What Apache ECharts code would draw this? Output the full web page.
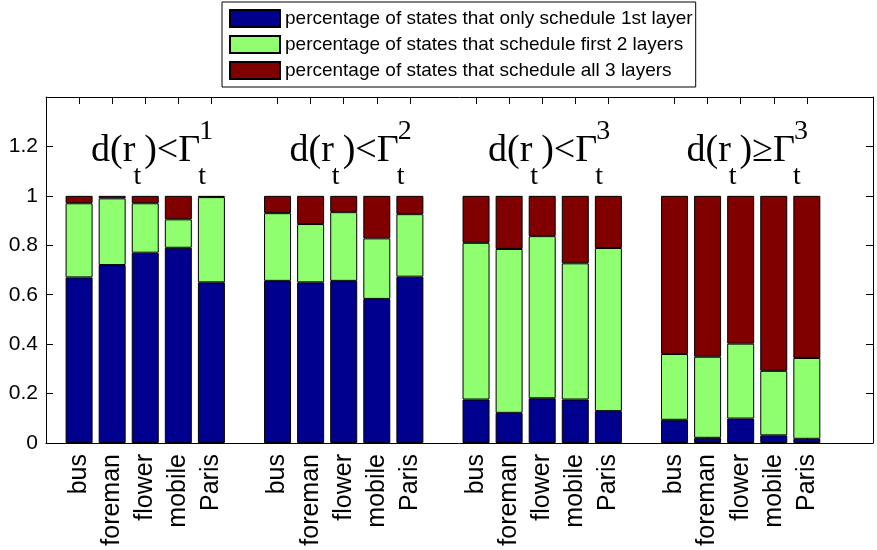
<!DOCTYPE html>
<html><head><meta charset="utf-8">
<script src="https://cdn.jsdelivr.net/npm/echarts@6/dist/echarts.min.js"></script>
<style>html,body{margin:0;padding:0;background:#fff}#c{width:877px;height:550px}</style>
</head><body><div id="c"></div>
<script>
const videos = ['bus', 'foreman', 'flower', 'mobile', 'Paris'];
const legendNames = [
  'percentage of states that only schedule 1st layer',
  'percentage of states that schedule first 2 layers',
  'percentage of states that schedule all 3 layers'
];
// 4 groups x 5 videos
const onlyFirst = [0.67, 0.72, 0.77, 0.79, 0.65,
                   0.656, 0.65, 0.656, 0.583, 0.673,
                   0.176, 0.122, 0.181, 0.176, 0.129,
                   0.094, 0.021, 0.099, 0.031, 0.017];
const firstTwo  = [0.30, 0.27, 0.20, 0.115, 0.345,
                   0.274, 0.236, 0.278, 0.245, 0.253,
                   0.634, 0.663, 0.656, 0.551, 0.66,
                   0.266, 0.328, 0.303, 0.261, 0.327];
const allThree  = [0.03, 0.01, 0.03, 0.095, 0.005,
                   0.07, 0.114, 0.066, 0.172, 0.074,
                   0.19, 0.215, 0.163, 0.273, 0.211,
                   0.64, 0.651, 0.598, 0.708, 0.656];
const relations = ['<', '<', '<', '\u2265'];
const levels = ['1', '2', '3', '3'];
const yTickLabels = ['0', '0.2', '0.4', '0.6', '0.8', '1', '1.2'];

const colors = ['#00008f', '#8fff70', '#800000'];
const slots = [], d1 = [], d2 = [], d3 = [], groupStart = [];
for (let g = 0; g < 4; g++) {
  slots.push(''); d1.push(null); d2.push(null); d3.push(null);
  groupStart.push(slots.length);
  for (let v = 0; v < videos.length; v++) {
    slots.push(videos[v]);
    d1.push(onlyFirst[g * 5 + v]);
    d2.push(firstTwo[g * 5 + v]);
    d3.push(allThree[g * 5 + v]);
  }
}
slots.push(''); d1.push(null); d2.push(null); d3.push(null);
slots.push(''); d1.push(null); d2.push(null); d3.push(null);

const sans = '"Liberation Sans", Arial, sans-serif';
const serif = '"Liberation Serif", "Times New Roman", serif';
const black = '#000';
const tickShow = (i, v) => v !== '';

const chart = echarts.init(document.getElementById('c'), null, {renderer: 'canvas'});
function xAx(pos, showLabel) {
  return {
    type: 'category', data: slots, boundaryGap: false, position: pos,
    axisLine: {show: true, onZero: false, lineStyle: {color: black, width: 1}},
    axisTick: {show: true, inside: true, length: 7, interval: tickShow, lineStyle: {color: black}},
    axisLabel: {show: showLabel, rotate: 90, margin: 11, interval: 0, fontSize: 25, color: black, fontFamily: sans},
    splitLine: {show: false}
  };
}
function yAx(pos, showLabel) {
  return {
    type: 'value', min: 0, max: 1.4, interval: 0.2, position: pos,
    axisLine: {show: true, lineStyle: {color: black, width: 1}},
    axisTick: {show: true, inside: true, length: 7, lineStyle: {color: black}},
    axisLabel: {show: showLabel, margin: 8, fontSize: 21, color: black, fontFamily: sans,
      formatter: v => yTickLabels[Math.round(v / 0.2)] || ''},
    splitLine: {show: false}
  };
}
const mk = (name, data, i) => ({
  name, type: 'bar', stack: 'all', data, barWidth: 27,
  xAxisIndex: 0, yAxisIndex: 0,
  itemStyle: {color: colors[i], borderColor: black, borderWidth: 1},
  emphasis: {disabled: true}
});
chart.setOption({
  animation: false,
  grid: {left: 46, right: 4, top: 97, bottom: 107, containLabel: false, outerBoundsMode: 'none'},
  legend: {
    data: legendNames, orient: 'vertical', left: 222, top: 2,
    itemWidth: 50, itemHeight: 17, itemGap: 7, padding: [7, 3, 7, 7],
    borderColor: black, borderWidth: 1, icon: 'rect', selectedMode: false,
    textStyle: {fontSize: 19, color: black, fontFamily: sans}
  },
  xAxis: [xAx('bottom', true), xAx('top', false)],
  yAxis: [yAx('left', true), yAx('right', false)],
  series: [mk(legendNames[0], d1, 0), mk(legendNames[1], d2, 1), mk(legendNames[2], d3, 2)]
});

// condition annotations above each group
const ctx = document.createElement('canvas').getContext('2d');
function mw(t, size) { ctx.font = size + 'px ' + serif; return ctx.measureText(t).width; }
function midOff(size) {
  ctx.font = size + 'px ' + serif; ctx.textBaseline = 'middle';
  const m = ctx.measureText('d');
  let a = Math.abs(m.alphabeticBaseline || 0);
  if (!a) a = 0.3 * size;
  ctx.textBaseline = 'alphabetic';
  return a;
}
const MAIN = 38, SUB = 28;
const mainBase = chart.convertToPixel({yAxisIndex: 0}, 1.143);
const subBase = mainBase + 23, supBase = mainBase - 22;
const offMain = midOff(MAIN), offSub = midOff(SUB);
const els = [];
function txt(t, x, base, size, off) {
  els.push({type: 'text', x, y: base - off, silent: true,
    style: {text: t, x: 0, y: 0, align: 'left', verticalAlign: 'middle',
      font: size + 'px ' + serif, fill: black}});
}
for (let g = 0; g < 4; g++) {
  let x = chart.convertToPixel({xAxisIndex: 0}, groupStart[g]) + 12;
  txt('d(r', x, mainBase, MAIN, offMain);
  x += mw('d(r', MAIN) - 2;
  txt('t', x, subBase, SUB, offSub);
  x += mw('t', SUB) + 3;
  const mid = ')' + relations[g] + '\u0393';
  txt(mid, x, mainBase, MAIN, offMain);
  x += mw(mid, MAIN) - 2;
  txt('t', x, subBase, SUB, offSub);
  txt(levels[g], x + 1, supBase, SUB, offSub);
}
chart.setOption({graphic: {elements: els}});
</script></body></html>
